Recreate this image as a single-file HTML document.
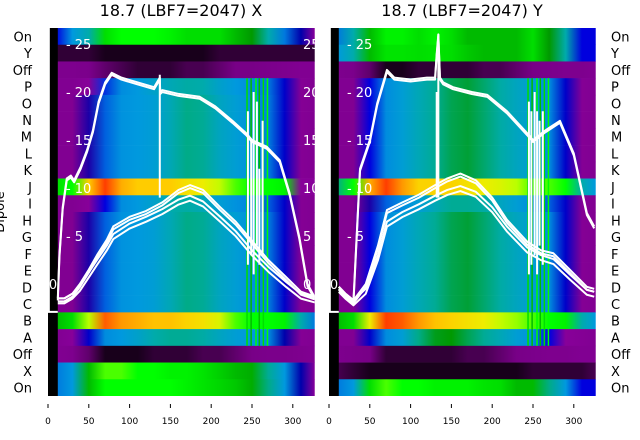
<!DOCTYPE html>
<html><head><meta charset="utf-8">
<style>
body{margin:0;background:#fff;}
svg{display:block;font-family:"DejaVu Sans","Liberation Sans",sans-serif;}
</style></head>
<body>
<svg id="chart" width="640" height="440" viewBox="0 0 640 440"></svg>
<script>
// ---------- data ----------
const rowLabels=["On","Y","Off","P","O","N","M","L","K","J","I","H","G","F","E","D","C","B","A","Off","X","On"];
const colStarts=[0,20,40,60,80,100,120,140,160,180,200,220,240,260,280,300,320];
const midL=[0.08,0.08,0.14,0.24,0.29,0.3,0.31,0.34,0.4,0.38,0.33,0.31,0.29,0.26,0.18,0.09,0.08];
const midR=[0.08,0.08,0.2,0.28,0.31,0.34,0.38,0.42,0.43,0.41,0.36,0.33,0.31,0.28,0.18,0.09,0.08];
const heatLeft=[
[0.2,0.3,0.35,0.55,0.6,0.6,0.6,0.58,0.55,0.55,0.55,0.5,0.45,0.35,0.25,0.15,0.1],
[0.02,0.02,0.02,0.01,0.01,0.01,0.01,0.01,0.01,0.01,0.02,0.02,0.02,0.02,0.02,0.02,0.02],
[0.07,0.07,0.06,0.04,0.03,0.02,0.02,0.02,0.03,0.03,0.04,0.05,0.05,0.06,0.07,0.08,0.08],
[0.08,0.08,0.1,0.22,0.28,0.3,0.32,0.34,0.36,0.35,0.32,0.3,0.28,0.25,0.18,0.09,0.08],
midL,midL,midL,midL,midL,
[0.55,0.6,0.75,0.83,0.78,0.75,0.75,0.75,0.72,0.7,0.66,0.62,0.6,0.6,0.58,0.1,0.1],
[0.08,0.08,0.1,0.2,0.28,0.3,0.32,0.35,0.36,0.34,0.31,0.29,0.27,0.24,0.18,0.09,0.08],
midL,midL,midL,midL,midL,midL,
[0.5,0.55,0.65,0.82,0.8,0.78,0.76,0.76,0.74,0.72,0.68,0.62,0.6,0.6,0.58,0.35,0.25],
[0.08,0.1,0.18,0.28,0.3,0.32,0.35,0.38,0.38,0.36,0.33,0.31,0.3,0.28,0.15,0.09,0.08],
[0.08,0.07,0.04,0.01,0.01,0.01,0.02,0.02,0.02,0.03,0.03,0.04,0.05,0.06,0.06,0.07,0.08],
[0.25,0.3,0.5,0.62,0.62,0.6,0.6,0.58,0.58,0.56,0.53,0.5,0.48,0.38,0.3,0.15,0.1],
[0.25,0.3,0.5,0.6,0.6,0.6,0.6,0.6,0.58,0.56,0.54,0.52,0.48,0.4,0.3,0.15,0.1]];
const heatRight=[
[0.25,0.35,0.5,0.58,0.58,0.55,0.58,0.55,0.5,0.5,0.5,0.5,0.55,0.45,0.35,0.2,0.2],
[0.3,0.35,0.5,0.56,0.56,0.55,0.56,0.55,0.52,0.5,0.5,0.5,0.55,0.45,0.35,0.2,0.2],
[0.07,0.06,0.04,0.01,0.01,0.02,0.02,0.02,0.02,0.03,0.03,0.04,0.05,0.06,0.07,0.07,0.08],
midR,midR,midR,midR,midR,midR,
[0.4,0.6,0.78,0.83,0.8,0.74,0.74,0.74,0.72,0.7,0.68,0.65,0.62,0.62,0.6,0.35,0.3],
[0.08,0.08,0.14,0.24,0.28,0.31,0.34,0.38,0.38,0.36,0.33,0.31,0.28,0.24,0.18,0.09,0.08],
midR,midR,midR,midR,midR,midR,
[0.5,0.55,0.7,0.83,0.82,0.8,0.76,0.74,0.72,0.7,0.66,0.64,0.62,0.6,0.58,0.35,0.3],
[0.08,0.08,0.18,0.28,0.31,0.4,0.44,0.45,0.42,0.38,0.34,0.31,0.29,0.2,0.1,0.09,0.08],
[0.07,0.06,0.05,0.02,0.02,0.02,0.02,0.02,0.03,0.03,0.04,0.05,0.06,0.07,0.07,0.08,0.08],
[0.03,0.02,0.01,0.01,0.01,0.01,0.01,0.01,0.01,0.01,0.01,0.01,0.02,0.02,0.02,0.02,0.03],
[0.25,0.3,0.55,0.62,0.6,0.6,0.58,0.58,0.58,0.56,0.55,0.5,0.5,0.4,0.3,0.2,0.2]];
const vlineX=[243,248,254,258,263,268];
const vlineVal=[0.55,0.5,0.6,0.5,0.55,0.6];
const xTicks=[0,50,100,150,200,250,300];
const yTicks=[5,10,15,20,25];
// line series (x, value)
const flatXL=[12,14,18,23,28,32,36,40,48,55,62,70,78,90,110,130,137,137.5,140,160,186,205,226,243,250,268,284,296,308,318,327];
const flatYL=[-1.5,3,8,11,11.3,10.8,11.5,12.2,14,16,19,21,22,21.5,21,20.5,21.5,20,20.2,19.8,19.5,18.5,17,15.7,15,14.3,12.9,9.5,4.9,0,-1.4];
const bellXL=[12,20,30,39,50,60,72,80,100,120,140,160,174,190,211,230,250,270,292,310,327];
const bellYL=[-1.5,-1.5,-1,0,1.5,3,4.6,6,7,7.6,8.5,9.8,10.3,9.8,8,6.5,4.5,2.5,0.7,-0.8,-1.3];
const bell2YL=[-1.5,-1.5,-1,-0.2,1.2,2.5,4,5.2,6.3,7,7.8,8.8,9.2,8.6,7,5.5,3.5,1.8,0.2,-1,-1.4];
const flatXR=[12,20,30,38,50,59,71,80,100,120,130,132,134,136,140,152,175,194,218,243,250,265,283,300,316,325];
const flatYR=[-0.3,-1,-1.7,12,15,18.8,22.3,21.5,21.3,21.5,21.5,24,26,21.5,21,20.5,20,19.7,18,15.7,15,16,17,13.6,7.4,6];
const bellXR=[12,20,30,45,60,71,90,110,130,145,161,180,200,218,243,260,275,295,316,325];
const bellYR=[-0.3,-1,-1.7,0,4,7.7,8.5,9.3,10.3,11,11.5,10.8,9,6.7,4.4,3.5,3.2,1.5,-0.3,-0.5];
const bell2YR=[-0.3,-1,-1.7,-0.5,3,6.5,7.5,8.3,9.2,9.8,10.2,9.6,8,6,3.8,3,2.6,1,-0.6,-0.8];
const spikeXL=[137,245,249,252,256,259,263];
const spikeTopL=[21.8,18,15,20,19,12,17];
const spikeBotL=[9,2,3,1,4,2,3];
const spikeXR=[132,134,245,248,252,255,258,262];
const spikeTopR=[20,26,19,18,20,18,17,18];
const spikeBotR=[9,9,1,2,3,1,4,2];

// ---------- helpers ----------
const NS="http://www.w3.org/2000/svg";
const svg=document.getElementById('chart');
const cm=[[0,0,0],[.47,0,.53],[.53,0,.6],[0,0,.67],[0,0,.87],[0,.47,.87],[0,.6,.87],[0,.67,.67],[0,.67,.53],[0,.6,0],[0,.73,0],[0,.87,0],[0,1,0],[.73,1,0],[.93,.93,0],[1,.8,0],[1,.6,0],[1,0,0],[.87,0,0],[.8,0,0],[.8,.8,.8]];
function color(v){v=Math.max(0,Math.min(1,v));const p=v*20,i=Math.min(19,Math.floor(p)),f=p-i;const a=cm[i],b=cm[i+1];
 return 'rgb('+[0,1,2].map(k=>Math.round(255*(a[k]+(b[k]-a[k])*f))).join(',')+')';}
function el(tag,attrs,parent){const e=document.createElementNS(NS,tag);for(const k in attrs)e.setAttribute(k,attrs[k]);(parent||svg).appendChild(e);return e;}
const TOP=28,BOT=396,NR=rowLabels.length,RH=(BOT-TOP)/NR,XMAX=327;
const yv=v=>284-v*9.6;
const defs=el('defs',{});

function panel(x0,heat,flatX,flatY,bellX,bellY,bell2Y,spX,spT,spB,rightLabels,name){
 const sx=v=>x0+v*0.816;
 const g=el('g',{});
 
 
 const cid='clip-'+name;
 const cp=el('clipPath',{id:cid},defs);el('rect',{x:sx(0),y:TOP,width:sx(XMAX)-sx(0),height:BOT-TOP},cp);
 const inner=el('g',{'clip-path':'url(#'+cid+')'},g);
 heat.forEach((row,r)=>{
  const gid='grad-'+name+'-'+r;
  const lg=el('linearGradient',{id:gid,gradientUnits:'userSpaceOnUse',x1:sx(0),x2:sx(XMAX),y1:0,y2:0},defs);
  row.forEach((v,c)=>{
   const mid=Math.min(XMAX,colStarts[c]+10);
   el('stop',{offset:(mid/XMAX).toFixed(4),'stop-color':color(v)},lg);
  });
  const rc=el('rect',{x:sx(0),y:TOP+r*RH,width:sx(XMAX)-sx(0),height:RH+0.3,fill:'url(#'+gid+')'},inner);
  
  
 });
 vlineX.forEach((vx,i)=>{
  const rc=el('rect',{x:sx(vx),y:TOP+3*RH,width:1.5,height:16*RH,fill:color(vlineVal[i])},inner);
  
  
 });
 el('rect',{x:sx(0),y:TOP,width:sx(12)-sx(0),height:BOT-TOP,fill:'#000'},inner);
 el('polyline',{points:[[sx(12),yv(-2.9)],[sx(1),yv(-2.9)],[sx(1),TOP]].map(p=>p.join(',')).join(' '),fill:'none',stroke:'#fff','stroke-width':2},inner);
 const mk=(xs,ys,off,nm)=>{const p=el('polyline',{points:xs.map((x,i)=>sx(x)+','+(yv(ys[i])+off)).join(' '),fill:'none',stroke:'#fff','stroke-width':2,'stroke-linejoin':'round'},inner);
  };
 mk(flatX,flatY,0,'series-flat');mk(flatX,flatY,2,'series-flat-2');
 mk(bellX,bellY,0,'series-bell');mk(bellX,bellY,3,'series-bell-2');mk(bellX,bell2Y,0,'series-bell-3');mk(bellX,bell2Y,5,'series-bell-4');
 spX.forEach((x,i)=>{const l=el('line',{x1:sx(x),x2:sx(x),y1:yv(spT[i]),y2:yv(spB[i]),stroke:'#fff','stroke-width':2},inner);
  });
 yTicks.forEach(t=>{const tx=el('text',{x:sx(22),y:yv(t)+5,fill:'#fff','font-size':13},inner);tx.textContent='- '+t;
  });
 el('text',{x:sx(0)-8,y:yv(0)+5,fill:'#fff','font-size':13},inner).textContent='- 0';
 xTicks.forEach(t=>{el('line',{x1:sx(t),x2:sx(t),y1:404,y2:408,stroke:'#000','stroke-width':1},g);
  const tx=el('text',{x:sx(t),y:424,'font-size':9,'text-anchor':'middle',fill:'#000'},g);tx.textContent=t;
  });
 rowLabels.forEach((lb,r)=>{const tx=el('text',{x:rightLabels?611:32,y:TOP+r*RH+RH/2+5,'font-size':13,'text-anchor':rightLabels?'start':'end',fill:'#000'},g);tx.textContent=lb;
  });
}
panel(48,heatLeft,flatXL,flatYL,bellXL,bellYL,bell2YL,spikeXL,spikeTopL,spikeBotL,false,'panel-x');
const cp2=el('clipPath',{id:'clipr'},defs);el('rect',{x:290,y:28,width:26,height:368},cp2);
yTicks.concat([0]).forEach(t=>{el('text',{x:303,y:yv(t)+5,fill:'#fff','font-size':13,'clip-path':'url(#clipr)'}).textContent=t;});
panel(329,heatRight,flatXR,flatYR,bellXR,bellYR,bell2YR,spikeXR,spikeTopR,spikeBotR,true,'panel-y');
const t1=el('text',{x:181,y:16,'font-size':16,'text-anchor':'middle'});t1.textContent='18.7 (LBF7=2047) X';

const t2=el('text',{x:462,y:16,'font-size':16,'text-anchor':'middle'});t2.textContent='18.7 (LBF7=2047) Y';

const yl=el('text',{x:0,y:0,'font-size':13,'text-anchor':'middle',transform:'translate(4,212) rotate(-90)'});yl.textContent='Dipole';

</script>
</body></html>
